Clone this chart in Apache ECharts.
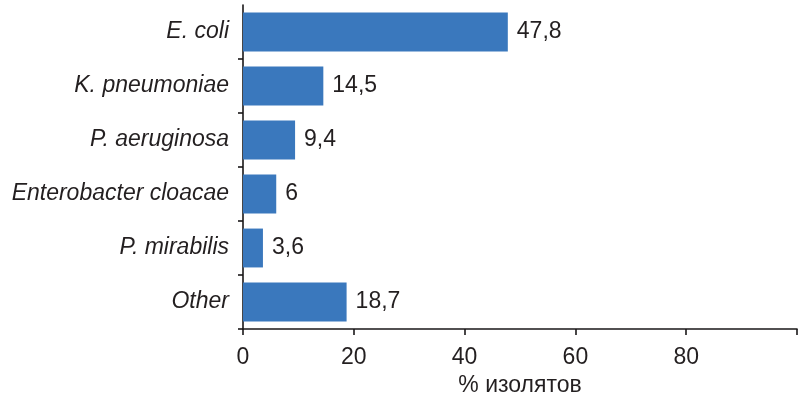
<!DOCTYPE html>
<html>
<head>
<meta charset="utf-8">
<script src="https://cdn.jsdelivr.net/npm/echarts@6/dist/echarts.min.js"></script>
<style>
  html, body { margin: 0; padding: 0; background: #fff; }
  #chart { width: 799px; height: 398px; }
</style>
</head>
<body>
<div id="chart"></div>
<script>
// Pathogen names, listed top to bottom
const categories = ['E. coli', 'K. pneumoniae', 'P. aeruginosa', 'Enterobacter cloacae', 'P. mirabilis', 'Other'];
// Share of isolates, %
const values = [47.8, 14.5, 9.4, 6, 3.6, 18.7];
// Value axis tick labels (100 keeps its tick but no label)
const tickLabels = ['0', '20', '40', '60', '80', ''];

const textColor = '#231F20';
const lineColor = '#1A1718';
const font = '"Liberation Sans", Arial, sans-serif';

const chart = echarts.init(document.getElementById('chart'), null, { renderer: 'canvas' });

chart.setOption({
  animation: false,
  grid: {
    left: 243, right: 2, top: 5, bottom: 69,
    containLabel: false,
    outerBoundsMode: 'none'
  },
  xAxis: {
    type: 'value',
    min: 0,
    max: 100,
    interval: 20,
    name: '% изолятов',
    nameLocation: 'middle',
    nameGap: 45,
    nameTextStyle: { color: textColor, fontSize: 23, fontFamily: font },
    axisLine: { show: true, lineStyle: { color: lineColor, width: 1.6 } },
    axisTick: { show: true, inside: false, length: 6, lineStyle: { color: lineColor, width: 1.6 } },
    axisLabel: {
      color: textColor, fontSize: 23, fontFamily: font, margin: 17,
      formatter: v => tickLabels[Math.round(v / 20)] ?? ''
    },
    splitLine: { show: false }
  },
  yAxis: {
    type: 'category',
    data: categories,
    inverse: true,
    axisLine: { show: true, lineStyle: { color: lineColor, width: 1.6 } },
    axisTick: {
      show: true, inside: false, length: 5,
      interval: (i) => i !== 0,
      lineStyle: { color: lineColor, width: 1.6 }
    },
    axisLabel: {
      color: textColor, fontSize: 23, fontFamily: font, fontStyle: 'italic', margin: 14
    }
  },
  series: [{
    type: 'bar',
    data: values,
    barWidth: '72%',
    itemStyle: { color: '#3A78BD' },
    label: {
      show: true,
      position: 'right',
      distance: 9,
      color: textColor,
      fontSize: 23,
      fontFamily: font,
      formatter: p => String(p.value).replace('.', ',')
    }
  }]
});
</script>
</body>
</html>
